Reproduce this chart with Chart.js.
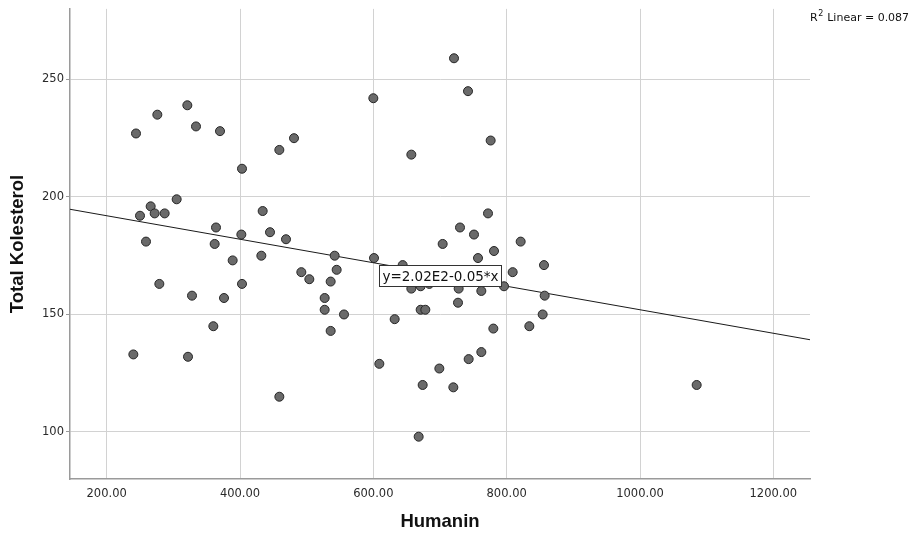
<!DOCTYPE html>
<html>
<head>
<meta charset="utf-8">
<script src="https://cdn.jsdelivr.net/npm/chart.js@4.4.1/dist/chart.umd.min.js"></script>
<style>
  body { margin: 0; background: #fff; }
  #wrap { width: 920px; height: 537px; }
</style>
</head>
<body>
<div id="wrap"><canvas id="scatter-canvas" width="920" height="537"></canvas></div>
<script>
// Humanin (x) vs Total Kolesterol (y)
const humanin = [
  244, 276, 321, 334, 370, 403, 459, 481, 600, 305,
  266, 250, 272, 287, 434, 259, 364, 362, 402, 445,
  469, 721, 742, 776, 657, 772, 730, 751, 704, 821,
  781, 389, 432, 542, 601, 279, 403, 328, 376, 492,
  504, 545, 536, 527, 527, 556, 536, 360, 240, 322,
  459, 609, 644, 657, 671, 684, 728, 757, 809, 856,
  762, 796, 857, 727, 671, 678, 632, 854, 780, 834,
  762, 743, 699, 674, 720, 668, 1085
];
const kolesterol = [
  227, 235, 239, 230, 228, 212, 220, 225, 242, 199,
  196, 192, 193, 193, 194, 181, 187, 180, 184, 185,
  182, 259, 245, 224, 218, 193, 187, 184, 180, 181,
  177, 173, 175, 175, 174, 163, 163, 158, 157, 168,
  165, 169, 164, 157, 152, 150, 143, 145, 133, 132,
  115, 129, 171, 161, 162, 163, 161, 174, 168, 171,
  160, 162, 158, 155, 152, 152, 148, 150, 144, 145,
  134, 131, 127, 120, 119, 98, 120
];

const xTicks = [200, 400, 600, 800, 1000, 1200];
const yTicks = [100, 150, 200, 250];
const xRange = [145, 1255];
const yRange = [80, 280];

// fit line from the plot label
const fitIntercept = 202;
const fitSlope = -0.05;
const fitLabel = "y=2.02E2-0.05*x";
const fitLabelAt = { x: 700, y: 166.5 };
const rSquared = "0.087";

const points = humanin.map((x, i) => ({ x: x, y: kolesterol[i] }));
const fitLine = xRange.map((x) => ({ x: x, y: fitIntercept + fitSlope * x }));

const extras = {
  id: "extras",
  afterDatasetsDraw(chart) {
    const ctx = chart.ctx;
    const xs = chart.scales.x, ys = chart.scales.y;
    // equation box
    ctx.save();
    ctx.font = "13.5px 'DejaVu Sans'";
    const w = Math.round(ctx.measureText(fitLabel).width + 6);
    const h = 21;
    const cx = xs.getPixelForValue(fitLabelAt.x);
    const cy = ys.getPixelForValue(fitLabelAt.y);
    const bx = Math.round(cx - w / 2), by = Math.round(cy - h / 2);
    ctx.fillStyle = "#fff";
    ctx.fillRect(bx, by, w, h);
    ctx.strokeStyle = "#333";
    ctx.lineWidth = 1;
    ctx.strokeRect(bx + 0.5, by + 0.5, w, h);
    ctx.fillStyle = "#111";
    ctx.textAlign = "center";
    ctx.textBaseline = "middle";
    ctx.fillText(fitLabel, bx + w / 2 + 0.5, by + h / 2 + 1.5);

    // R2 note top right
    ctx.textAlign = "left";
    ctx.textBaseline = "alphabetic";
    let tx = 810;
    ctx.font = "11px 'DejaVu Sans'";
    ctx.fillText("R", tx, 21);
    tx += ctx.measureText("R").width;
    ctx.font = "8px 'DejaVu Sans'";
    ctx.fillText("2", tx + 0.5, 16);
    tx += ctx.measureText("2").width + 1;
    ctx.font = "11px 'DejaVu Sans'";
    ctx.fillText(" Linear = " + rSquared, tx, 21);
    ctx.restore();
  },
};

const ctx = document.getElementById("scatter-canvas").getContext("2d");
const chart = new Chart(ctx, {
  type: "scatter",
  data: {
    datasets: [
      {
        label: "fit",
        type: "line",
        data: fitLine,
        borderColor: "#1a1a1a",
        borderWidth: 1,
        pointRadius: 0,
        fill: false,
        order: 2,
      },
      {
        label: "Total Kolesterol",
        data: points,
        backgroundColor: "#6a6a6a",
        borderColor: "#262626",
        borderWidth: 1,
        pointRadius: 4.5,
        order: 1,
      },
    ],
  },
  options: {
    responsive: false,
    animation: false,
    layout: { padding: { left: 0, right: 110, top: 7, bottom: 0 } },
    plugins: {
      legend: { display: false },
      tooltip: { enabled: false },
    },
    scales: {
      x: {
        type: "linear",
        min: xRange[0],
        max: xRange[1],
        afterBuildTicks: (scale) => {
          scale.ticks = xTicks.map((v) => ({ value: v }));
        },
        afterFit: (scale) => {
          scale.height = 58;
        },
        grid: { color: "#d2d2d2", lineWidth: 1, drawTicks: false },
        border: { color: "#9a9a9a", width: 1.5 },
        ticks: {
          padding: 8,
          color: "#2a2a2a",
          font: { family: "DejaVu Sans", size: 11.5 },
          maxRotation: 0,
          callback: (v) => Number(v).toFixed(2),
        },
        title: {
          display: true,
          text: "Humanin",
          color: "#111",
          font: { family: "Liberation Sans", size: 18.5, weight: "bold" },
          padding: { top: 0, bottom: 4 },
        },
      },
      y: {
        type: "linear",
        min: yRange[0],
        max: yRange[1],
        afterBuildTicks: (scale) => {
          scale.ticks = yTicks.map((v) => ({ value: v }));
        },
        afterFit: (scale) => {
          scale.width = 70;
        },
        grid: { color: "#d2d2d2", lineWidth: 1, tickLength: 4, tickColor: "#9a9a9a" },
        border: { color: "#9a9a9a", width: 1.5 },
        ticks: {
          padding: 2,
          color: "#2a2a2a",
          font: { family: "DejaVu Sans", size: 11.5 },
          callback: (v) => String(v),
        },
        title: {
          display: true,
          text: "Total Kolesterol",
          color: "#111",
          font: { family: "Liberation Sans", size: 18.5, weight: "bold" },
          padding: { top: 7, bottom: 0 },
        },
      },
    },
  },
  plugins: [extras],
});
</script>
</body>
</html>
